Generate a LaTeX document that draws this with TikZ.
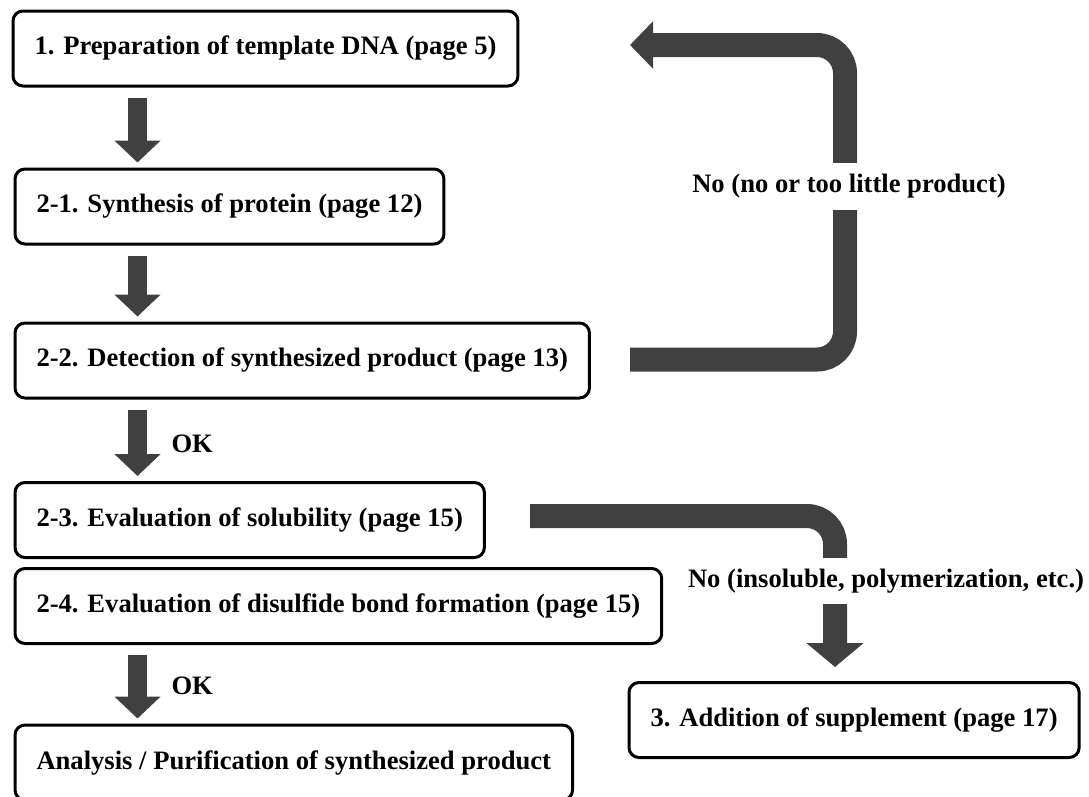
\documentclass[tikz,border=0pt]{standalone}
\usepackage{fontspec}
\setmainfont{Liberation Serif}
\usetikzlibrary{arrows.meta}
\definecolor{arrowgray}{HTML}{404040}

\begin{document}
\begin{tikzpicture}[x=1pt,y=-1pt,
  stepbox/.style={draw,line width=3pt,rounded corners=10pt,anchor=west,minimum height=75pt,inner xsep=21.5pt,font=\bfseries\fontsize{26.6}{30}\selectfont},
  lbl/.style={font=\bfseries\fontsize{26.6}{30}\selectfont},
  flow/.style={arrowgray,line width=19pt,-{Triangle[width=45pt,length=22pt]},shorten <=10pt,shorten >=5pt},
  back/.style={arrowgray,line width=24pt,rounded corners=28pt}]
\clip (0,0) rectangle (1089,796);
%steps
\node[stepbox] (b1) at (11.5,48.5) {1. Preparation of template DNA (page 5)};
\node[stepbox] (b21) at (13.5,206.5) {2-1. Synthesis of protein (page 12)};
\node[stepbox] (b22) at (13.5,360.5) {2-2. Detection of synthesized product (page 13)};
\node[stepbox] (b23) at (13.5,520) {2-3. Evaluation of solubility (page 15)};
\node[stepbox] (b24) at (13.5,606) {2-4. Evaluation of disulfide bond formation (page 15)};
\node[stepbox] (b5) at (13.5,762.5) {Analysis / Purification of synthesized product};
\node[stepbox] (b3) at (627.5,720) {3. Addition of supplement (page 17)};
%down arrows
\coordinate (ax) at (137.5,0);
\draw[flow] (b1.south -| ax) -- (b21.north -| ax);
\draw[flow] (b21.south -| ax) -- (b22.north -| ax);
\draw[flow] (b22.south -| ax) -- (b23.north -| ax);
\draw[flow] (b24.south -| ax) -- (b5.north -| ax);
\node[lbl,anchor=west] (ok1) at (168,444) {OK};
\node[lbl,anchor=west] (ok2) at (168,686) {OK};
%back to step 1
\coordinate (noS) at (630,359.5);
\coordinate (noC) at (845,45);
\coordinate (noE) at (630,45);
\draw[back,-{Triangle[width=46pt,length=23pt]}] (noS) -| (noC) -- (noE);
\node[lbl,fill=white,minimum height=47pt,inner xsep=3pt] (no1) at (849,186) {No (no or too little product)};
%to step 3
\coordinate (insS) at (530,516);
\coordinate (insE) at (835,667);
\draw[back,-{Triangle[width=56pt,length=24pt]}] (insS) -| (insE);
\node[lbl,fill=white,minimum height=46pt,inner xsep=3pt] (no2) at (886,581) {No (insoluble, polymerization, etc.)};
\end{tikzpicture}
\end{document}
